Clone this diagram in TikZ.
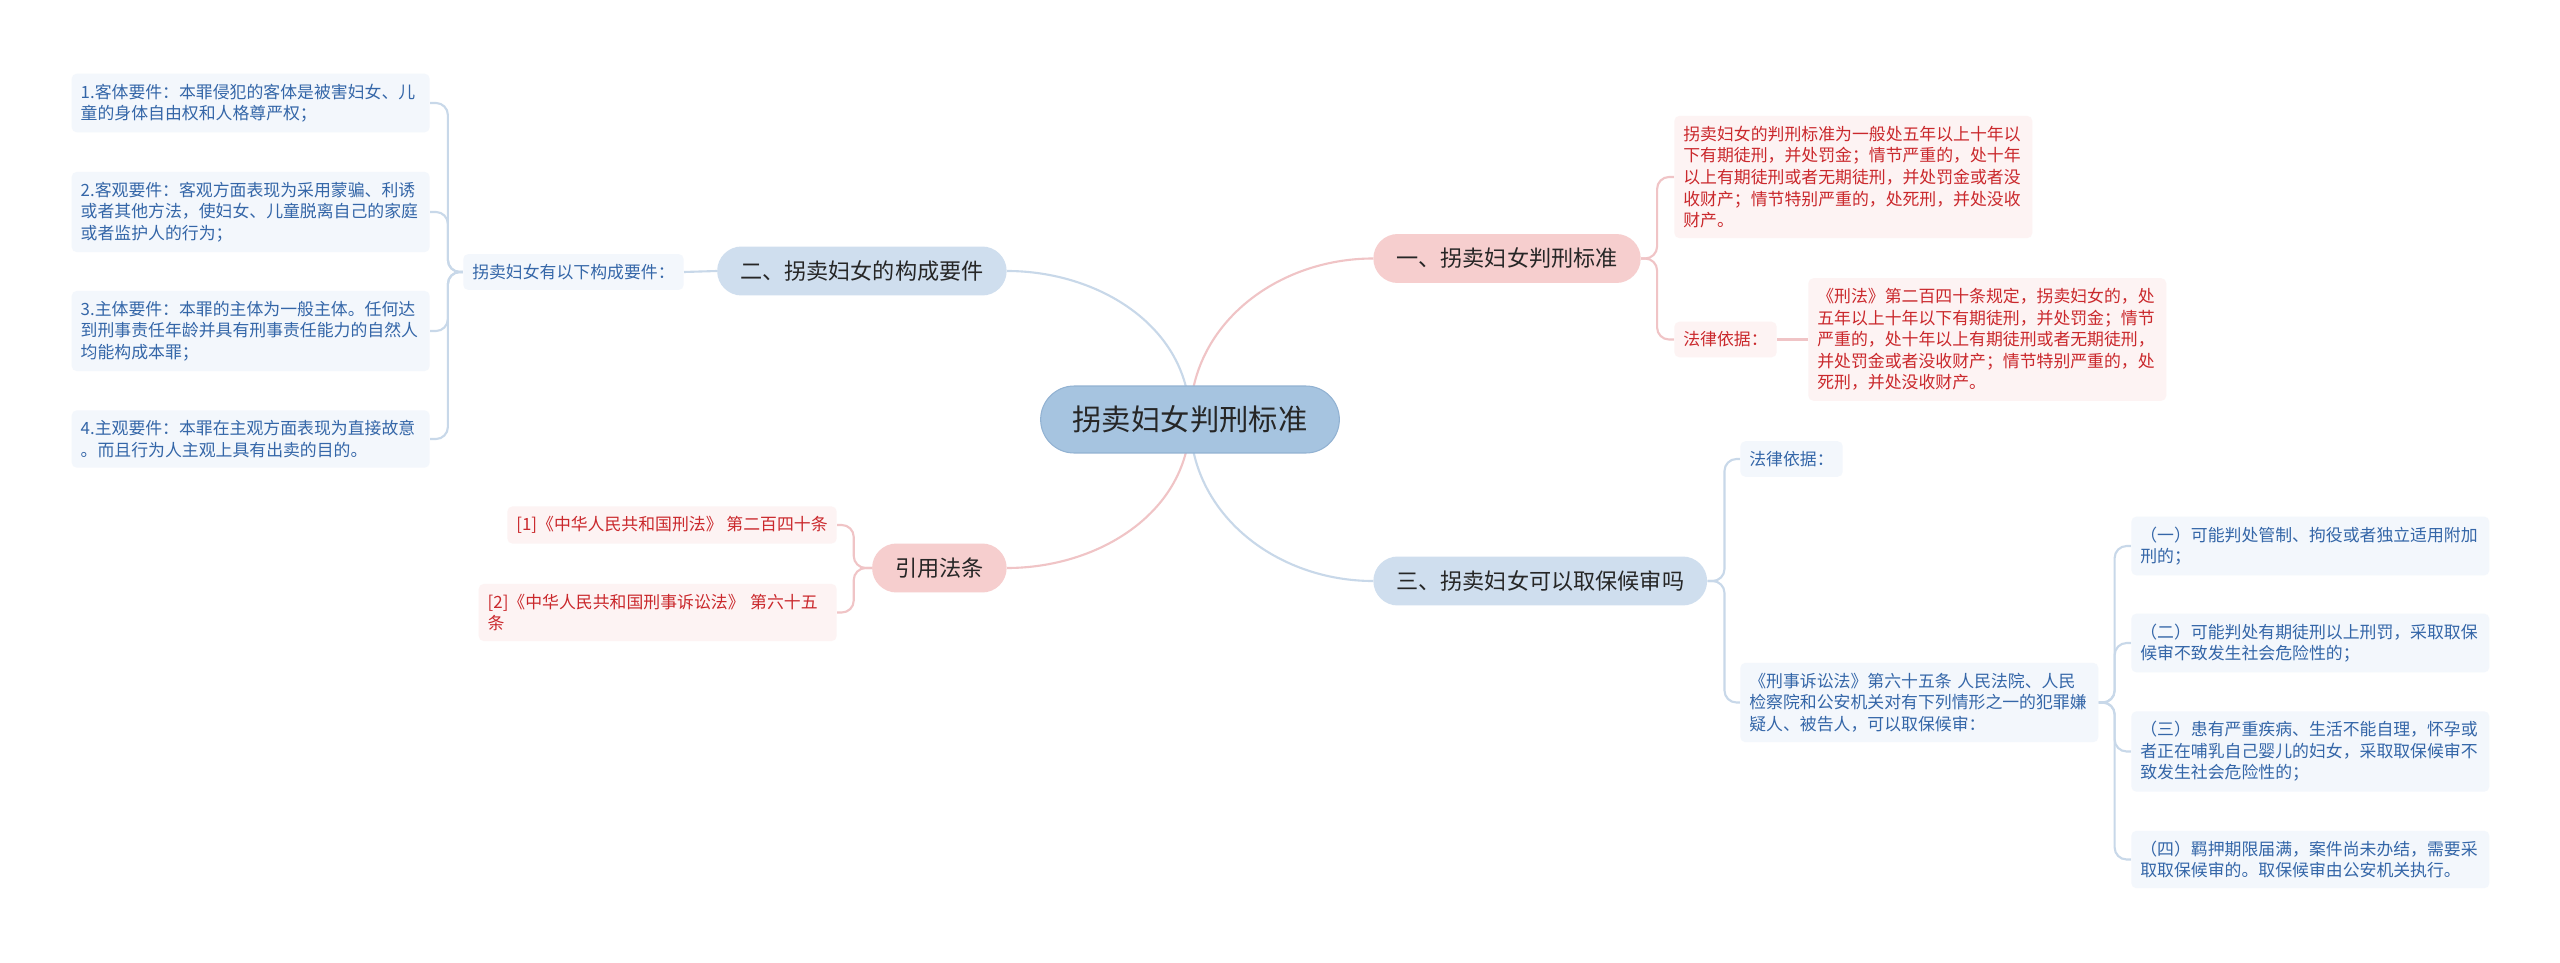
\documentclass[tikz,border=0pt]{standalone}
\usepackage{fontspec}
\setmainfont{Noto Sans CJK SC}
\usepackage{tikz}
\usetikzlibrary{positioning,backgrounds}

\definecolor{rootfill}{RGB}{166,196,224}
\definecolor{rootdraw}{RGB}{146,178,210}
\definecolor{bluefill}{RGB}{207,222,238}
\definecolor{pinkfill}{RGB}{246,206,206}
\definecolor{bluebox}{RGB}{243,247,252}
\definecolor{pinkbox}{RGB}{253,243,243}
\definecolor{bluetext}{RGB}{52,102,168}
\definecolor{redtext}{RGB}{202,40,44}
\definecolor{blueline}{RGB}{200,216,233}
\definecolor{pinkline}{RGB}{240,196,198}
\definecolor{darktext}{RGB}{38,38,38}

\begin{document}
\begin{tikzpicture}[x=0.02cm, y=-0.02cm,
	rootnode/.style={rounded corners=0.67cm, fill=rootfill, draw=rootdraw, line width=0.6pt, minimum height=1.34cm, inner xsep=0.64cm, font=\fontsize{16.7}{20}\selectfont, text=darktext},
	branch/.style={rounded corners=0.49cm, minimum height=0.98cm, inner xsep=0.46cm, font=\fontsize{12.6}{15}\selectfont, text=darktext},
	bbranch/.style={branch, fill=bluefill},
	pbranch/.style={branch, fill=pinkfill},
	leaf/.style={rounded corners=0.1cm, inner xsep=0.18cm, inner ysep=0.2cm, align=left, font=\fontsize{9.6}{12.3}\selectfont},
	bleaf/.style={leaf, fill=bluebox, text=bluetext},
	pleaf/.style={leaf, fill=pinkbox, text=redtext},
	wide/.style={text width=6.8cm},
	bline/.style={draw=blueline, line width=1.2pt},
	pline/.style={draw=pinkline, line width=1.2pt},
	]
	\useasboundingbox (0,0) rectangle (2560,963);

	% centre and main branches
	\node (root) at (1190,419.5) [rootnode] {拐卖妇女判刑标准};
	\node (b1) at (1373,258.5) [pbranch, anchor=west] {一、拐卖妇女判刑标准};
	\node (b2) at (1007,271) [bbranch, anchor=east] {二、拐卖妇女的构成要件};
	\node (b3) at (1373,581) [bbranch, anchor=west] {三、拐卖妇女可以取保候审吗};
	\node (b4) at (1007,568) [pbranch, anchor=east] {引用法条};

	% left: elements of the crime
	\node (req) at (684,272) [bleaf, anchor=east] {拐卖妇女有以下构成要件：};
	\node (req1) at (430,103) [bleaf, wide, anchor=east] {1.客体要件：本罪侵犯的客体是被害妇女、儿\\童的身体自由权和人格尊严权；};
	\node (req2) at (430,212) [bleaf, wide, anchor=east] {2.客观要件：客观方面表现为采用蒙骗、利诱\\或者其他方法，使妇女、儿童脱离自己的家庭\\或者监护人的行为；};
	\node (req3) at (430,331) [bleaf, wide, anchor=east] {3.主体要件：本罪的主体为一般主体。任何达\\到刑事责任年龄并具有刑事责任能力的自然人\\均能构成本罪；};
	\node (req4) at (430,439) [bleaf, wide, anchor=east] {4.主观要件：本罪在主观方面表现为直接故意\\。而且行为人主观上具有出卖的目的。};

	% left: cited laws
	\node (ref1) at (837,525) [pleaf, anchor=east] {[1]《中华人民共和国刑法》 第二百四十条};
	\node (ref2) at (837,612.5) [pleaf, wide, anchor=east] {[2]《中华人民共和国刑事诉讼法》 第六十五\\条};

	% right: sentencing
	\node (std) at (1674,177) [pleaf, wide, anchor=west] {拐卖妇女的判刑标准为一般处五年以上十年以\\下有期徒刑，并处罚金；情节严重的，处十年\\以上有期徒刑或者无期徒刑，并处罚金或者没\\收财产；情节特别严重的，处死刑，并处没收\\财产。};
	\node (basis1) at (1674,339.5) [pleaf, anchor=west] {法律依据：};
	\node (law1) at (1808,339.5) [pleaf, wide, anchor=west] {《刑法》第二百四十条规定，拐卖妇女的，处\\五年以上十年以下有期徒刑，并处罚金；情节\\严重的，处十年以上有期徒刑或者无期徒刑，\\并处罚金或者没收财产；情节特别严重的，处\\死刑，并处没收财产。};

	% right: bail
	\node (basis3) at (1740,459) [bleaf, anchor=west] {法律依据：};
	\node (bail) at (1740,702.5) [bleaf, wide, anchor=west] {《刑事诉讼法》第六十五条 人民法院、人民\\检察院和公安机关对有下列情形之一的犯罪嫌\\疑人、被告人，可以取保候审：};
	\node (bail1) at (2131,546) [bleaf, wide, anchor=west] {（一）可能判处管制、拘役或者独立适用附加\\刑的；};
	\node (bail2) at (2131,643) [bleaf, wide, anchor=west] {（二）可能判处有期徒刑以上刑罚，采取取保\\候审不致发生社会危险性的；};
	\node (bail3) at (2131,751.5) [bleaf, wide, anchor=west] {（三）患有严重疾病、生活不能自理，怀孕或\\者正在哺乳自己婴儿的妇女，采取取保候审不\\致发生社会危险性的；};
	\node (bail4) at (2131,859.5) [bleaf, wide, anchor=west] {（四）羁押期限届满，案件尚未办结，需要采\\取取保候审的。取保候审由公安机关执行。};

	\begin{scope}[on background layer]
		\fill [white] (0,0) rectangle (2560,963);
		\draw [pline] (root.center) to[out=90, in=180] (b1.west);
		\draw [bline] (root.center) to[out=90, in=0] (b2.east);
		\draw [bline] (root.center) to[out=-90, in=180] (b3.west);
		\draw [pline] (root.center) to[out=-90, in=0] (b4.east);

		\draw [bline] (b2.west) -- (req.east);
		\foreach \n in {req1,req2,req3,req4}
			\draw [bline, rounded corners=0.24cm] (req.west) -- ++(-15,0) |- (\n.east);
		\foreach \n in {ref1,ref2}
			\draw [pline, rounded corners=0.24cm] (b4.west) -- ++(-18,0) |- (\n.east);
		\foreach \n in {std,basis1}
			\draw [pline, rounded corners=0.24cm] (b1.east) -- ++(16,0) |- (\n.west);
		\draw [pline] (basis1.east) -- (law1.west);
		\foreach \n in {basis3,bail}
			\draw [bline, rounded corners=0.24cm] (b3.east) -- ++(17,0) |- (\n.west);
		\foreach \n in {bail1,bail2,bail3,bail4}
			\draw [bline, rounded corners=0.24cm] (bail.east) -- ++(16,0) |- (\n.west);
	\end{scope}
\end{tikzpicture}
\end{document}
